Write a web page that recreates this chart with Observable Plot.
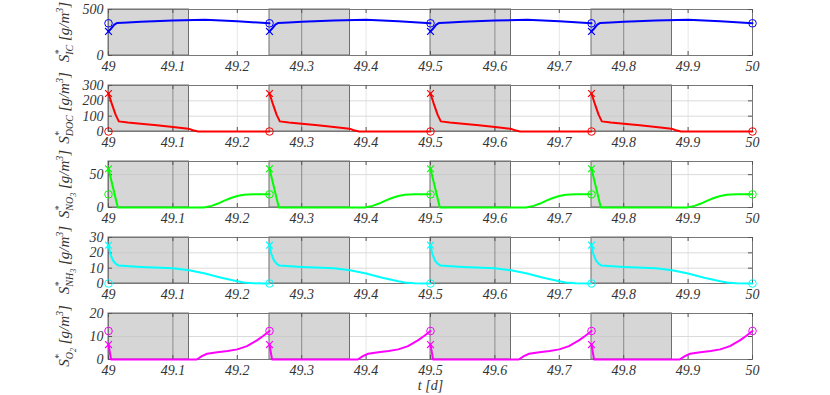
<!DOCTYPE html>
<html>
<head>
<meta charset="utf-8">
<script src="https://cdn.jsdelivr.net/npm/d3@7"></script>
<script src="https://cdn.jsdelivr.net/npm/@observablehq/plot@0.6"></script>
<style>
  body { margin: 0; background: #fff; }
  #chart svg { display: block; }
  #chart svg, #chart svg text { font-family: "Liberation Serif", "Times New Roman", serif !important; font-style: italic; }
</style>
</head>
<body>
<div id="chart"></div>
<script>
// ---- Data ----
const xTicks = [49, 49.1, 49.2, 49.3, 49.4, 49.5, 49.6, 49.7, 49.8, 49.9, 50];
const cycleStarts = [49, 49.25, 49.5, 49.75];
const circleTimes = [49, 49.25, 49.5, 49.75, 50];
const shadeStart = [49, 49.25, 49.5, 49.75];
const shadeEnd = [49.125, 49.375, 49.625, 49.875];

// one cycle profile (time within the 0.25 d cycle) — identical in every cycle
const icDt  = [0, 0.005, 0.009, 0.013, 0.03, 0.05, 0.1, 0.15, 0.2, 0.25];
const icVal = [262, 300, 335, 352, 360, 367, 380, 389, 372, 350];
const icCircle = 350, icCross = 262;

const docDt  = [0, 0.006, 0.011, 0.016, 0.03, 0.05, 0.075, 0.1, 0.124, 0.131, 0.139, 0.25];
const docVal = [248, 170, 110, 66, 58, 51, 41, 30, 18, 8, 0, 0];
const docCircle = 0, docCross = 248;

const no3Dt  = [0, 0.0145, 0.148, 0.16, 0.17, 0.18, 0.19, 0.2, 0.21, 0.225, 0.25];
const no3Val = [59, 0, 0, 2.5, 6, 10.5, 14.5, 17.5, 19.3, 20, 20];
const no3Circle = 20, no3Cross = 59;

const nh3Dt  = [0, 0.003, 0.007, 0.011, 0.0155, 0.05, 0.1, 0.125, 0.15, 0.175, 0.2, 0.21, 0.225, 0.25];
const nh3Val = [25, 19, 15, 13, 11.7, 10.8, 9.9, 8.6, 6.5, 3.8, 1.5, 0.7, 0.1, 0];
const nh3Circle = 0, nh3Cross = 25;

const o2Dt  = [0, 0.004, 0.137, 0.145, 0.153, 0.169, 0.185, 0.2, 0.215, 0.231, 0.24, 0.25];
const o2Val = [6.5, 0, 0, 1.5, 2.5, 3.2, 3.7, 4.4, 5.8, 8.4, 10.2, 12.4];
const o2Circle = 12.4, o2Cross = 6.5;

const panels = [
  {sub: [["IC", 0]], domain: [0, 500], ticks: [0, 500], color: "#0000ff", dt: icDt, val: icVal, circle: icCircle, cross: icCross},
  {sub: [["DOC", 0]], domain: [0, 300], ticks: [0, 100, 200, 300], color: "#ff0000", dt: docDt, val: docVal, circle: docCircle, cross: docCross},
  {sub: [["NO", 0], ["3", 1]], domain: [0, 70], ticks: [0, 50], color: "#00ff00", dt: no3Dt, val: no3Val, circle: no3Circle, cross: no3Cross},
  {sub: [["NH", 0], ["3", 1]], domain: [0, 30], ticks: [0, 10, 20, 30], color: "#00ffff", dt: nh3Dt, val: nh3Val, circle: nh3Circle, cross: nh3Cross},
  {sub: [["O", 0], ["2", 1]], domain: [0, 20], ticks: [0, 10, 20], color: "#ff00ff", dt: o2Dt, val: o2Val, circle: o2Circle, cross: o2Cross}
];

const shades = shadeStart.map((s, i) => ({start: s, end: shadeEnd[i]}));
const inShade = t => shades.some(s => t > s.start + 1e-9 && t < s.end - 1e-9);
const fmt = d3.format(".1~f");
const font = "'Liberation Serif', 'Times New Roman', serif";

const chart = document.getElementById("chart");
panels.forEach((p, k) => {
  const last = k === panels.length - 1;
  const H = last ? 91 : 76;
  const mt = 9, ph = 46;
  const rows = [];
  cycleStarts.forEach((c, ci) => p.dt.forEach((d, i) => rows.push({t: c + d, v: p.val[i], cycle: ci})));
  const circles = circleTimes.map(t => ({t, v: p.circle}));
  const crosses = cycleStarts.map(t => ({t, v: p.cross}));
  const marks = [
    Plot.gridX(xTicks, {stroke: "#e6e6e6", strokeOpacity: 1}),
    Plot.gridY(p.ticks, {stroke: "#e6e6e6", strokeOpacity: 1}),
    Plot.rect(shades, {x1: "start", x2: "end", fill: "#d6d6d6", stroke: "#6e6e6e", strokeWidth: 1}),
    Plot.ruleX(xTicks.filter(inShade), {stroke: "#8c8c8c"}),
    Plot.gridY(p.ticks, {stroke: "#000", strokeOpacity: 0.05}),
    Plot.frame({stroke: "#777"}),
    Plot.tickX(xTicks, {x: d => d, insetTop: ph - 4, stroke: "#555"}),
    Plot.tickX(xTicks, {x: d => d, insetBottom: ph - 4, stroke: "#555"}),
    Plot.tickY(p.ticks, {y: d => d, insetRight: 640, stroke: "#555"}),
    Plot.tickY(p.ticks, {y: d => d, insetLeft: 640, stroke: "#555"}),
    Plot.line(rows, {x: "t", y: "v", z: "cycle", stroke: p.color, strokeWidth: 2}),
    Plot.dot(circles, {x: "t", y: "v", r: 3.8, stroke: p.color, fill: "none", strokeWidth: 1}),
    Plot.dot(crosses, {x: "t", y: "v", r: 3.2, symbol: "times", stroke: p.color, strokeWidth: 1.2}),
    Plot.axisX(xTicks, {tickSize: 0, tickPadding: 6, tickFormat: fmt, label: null, fontSize: 14}),
    Plot.axisY(p.ticks, {tickSize: 0, tickPadding: 5, label: null, fontSize: 14})
  ];
  if (last) marks.push(Plot.text(["t [d]"], {text: d => d, frameAnchor: "bottom", dy: 26, fontSize: 14, lineAnchor: "middle"}));
  const svg = Plot.plot({
    width: 830, height: H,
    marginLeft: 108, marginRight: 78, marginTop: mt, marginBottom: H - mt - ph,
    x: {domain: [49, 50]},
    y: {domain: p.domain},
    style: {fontFamily: font, fontStyle: "italic", fontSize: "14px", color: "#333", background: "white", overflow: "visible"},
    marks
  });
  // rich y label: S*_{sub} [g/m^3]
  const g = d3.select(svg).append("text")
    .attr("transform", `translate(69,${mt + ph / 2}) rotate(-90)`)
    .attr("text-anchor", "middle")
    .style("font-family", font).style("font-style", "italic").style("font-size", "15px")
    .attr("fill", "#333");
  g.append("tspan").text("S");
  g.append("tspan").style("font-size", "10px").attr("dy", -7).text("*");
  let dyAcc = -7;
  p.sub.forEach(([s, lvl], i) => {
    const target = lvl === 0 ? 4 : 7;
    g.append("tspan").style("font-size", lvl === 0 ? "10px" : "8px")
      .attr("dx", i === 0 ? -5 : 0).attr("dy", target - dyAcc).text(s);
    dyAcc = target;
  });
  g.append("tspan").attr("dy", -dyAcc).text("\u00a0[g/m");
  g.append("tspan").style("font-size", "10px").attr("dy", -6).text("3");
  g.append("tspan").attr("dy", 6).text("]");
  chart.appendChild(svg);
});
</script>
</body>
</html>
